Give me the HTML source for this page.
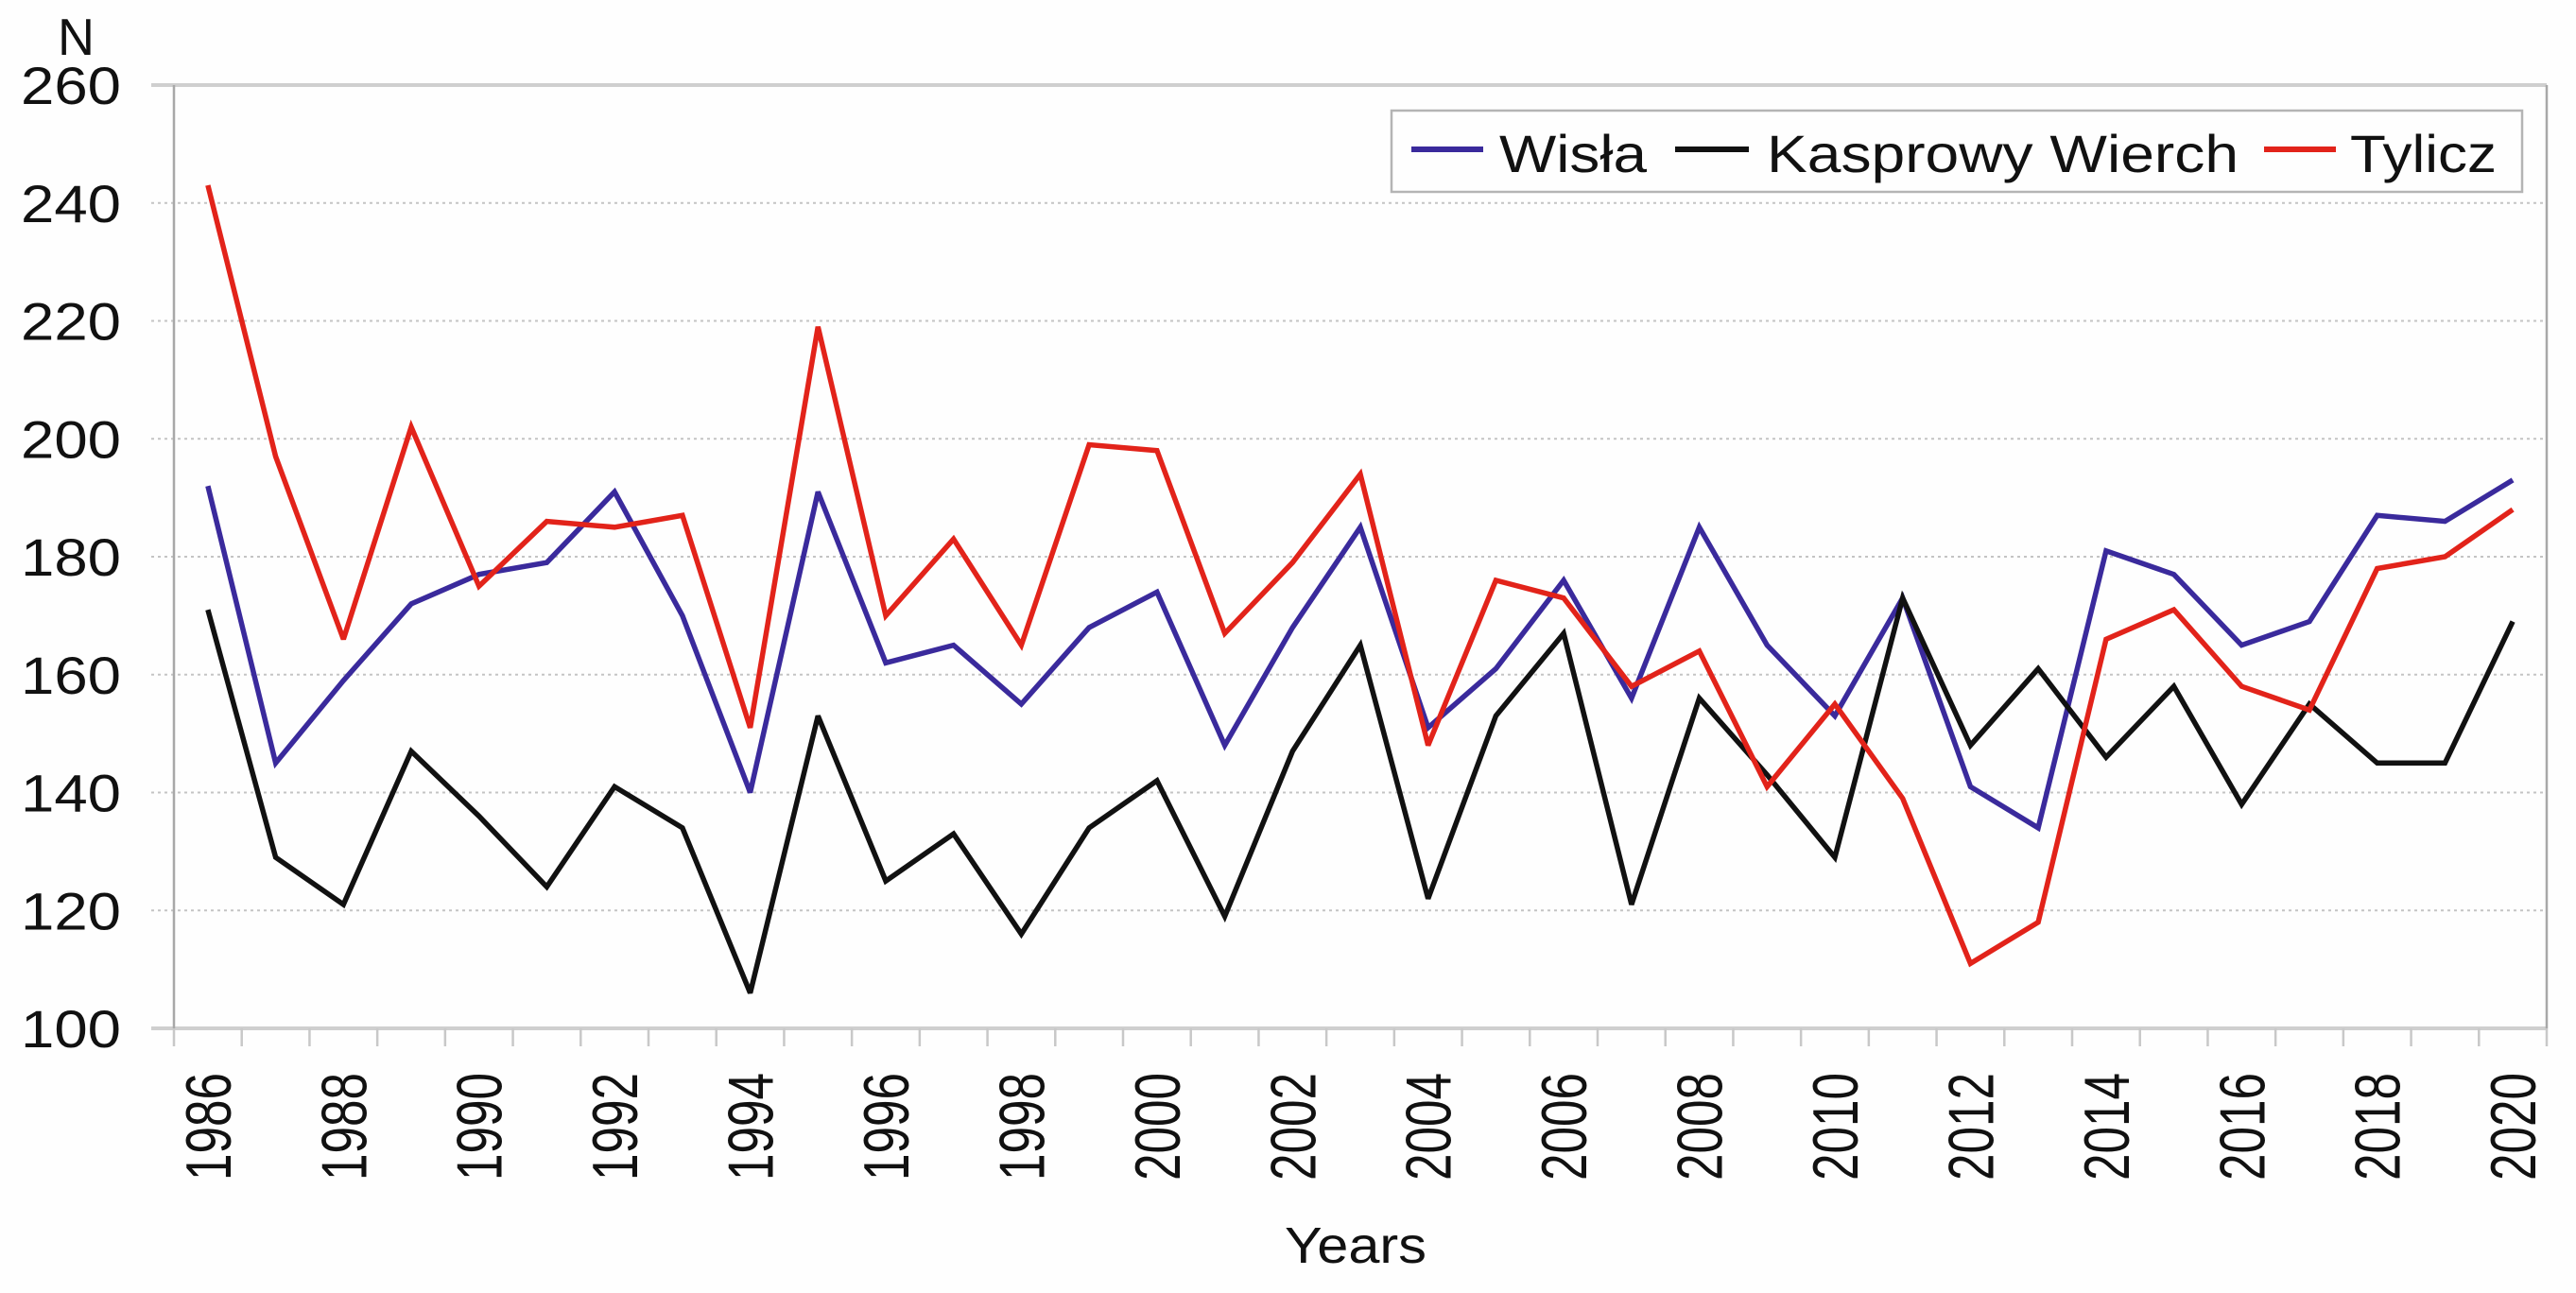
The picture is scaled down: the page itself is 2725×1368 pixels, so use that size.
<!DOCTYPE html>
<html lang="en">
<head>
<meta charset="utf-8">
<title>Wisła, Kasprowy Wierch, Tylicz 1986–2020</title>
<style>
html,body{margin:0;padding:0;background:#fefefe;width:2725px;height:1368px;overflow:hidden}
svg{display:block}
text{font-family:"Liberation Sans",sans-serif;fill:#111}
</style>
</head>
<body>
<svg id="chart" xmlns="http://www.w3.org/2000/svg" width="2725" height="1368" viewBox="0 0 2725 1368">
<rect x="0" y="0" width="2725" height="1368" fill="#fefefe"/>
<g id="grid"></g>
<g id="axes"></g>
<g id="series"></g>
<g id="labels"></g>
<text x="61" y="58" font-size="55" textLength="39" lengthAdjust="spacingAndGlyphs">N</text>
<text x="1359" y="1336" font-size="54" textLength="150" lengthAdjust="spacingAndGlyphs">Years</text>
<g>
<rect x="1472" y="117" width="1196" height="86" fill="#fefefe" stroke="#b4b4b4" stroke-width="2.5"/>
<line x1="1493" x2="1569" y1="158" y2="158" stroke="#3a2a9c" stroke-width="6"/>
<text x="1586" y="182" font-size="56" textLength="156" lengthAdjust="spacingAndGlyphs">Wisła</text>
<line x1="1772" x2="1850" y1="158" y2="158" stroke="#111111" stroke-width="6"/>
<text x="1869" y="182" font-size="56" textLength="499" lengthAdjust="spacingAndGlyphs">Kasprowy Wierch</text>
<line x1="2395" x2="2471" y1="158" y2="158" stroke="#e2231a" stroke-width="6"/>
<text x="2486" y="182" font-size="56" textLength="155" lengthAdjust="spacingAndGlyphs">Tylicz</text>
</g>
</svg>
<script>
const years = [1986,1987,1988,1989,1990,1991,1992,1993,1994,1995,1996,1997,1998,1999,2000,2001,2002,2003,2004,2005,2006,2007,2008,2009,2010,2011,2012,2013,2014,2015,2016,2017,2018,2019,2020];
const wisla = [192,145,159,172,177,179,191,170,140,191,162,165,155,168,174,148,168,185,151,161,176,156,185,165,153,173,141,134,181,177,165,169,187,186,193];
const kasprowyWierch = [171,129,121,147,136,124,141,134,106,153,125,133,116,134,142,119,147,165,122,153,167,121,156,143,129,173,148,161,146,158,138,155,145,145,169];
const tylicz = [243,197,166,202,175,186,185,187,151,219,170,183,165,199,198,167,179,194,148,176,173,158,164,141,155,139,111,118,166,171,158,154,178,180,188];
const yTicks = [100,120,140,160,180,200,220,240,260];
const xTickLabels = [1986,1988,1990,1992,1994,1996,1998,2000,2002,2004,2006,2008,2010,2012,2014,2016,2018,2020];

const NS = 'http://www.w3.org/2000/svg';
const plotLeft = 184, plotRight = 2694, plotTop = 90, plotBottom = 1088;
const yMin = 100, yMax = 260;
function xBand(i){ return plotLeft + (plotRight - plotLeft) * i / years.length; }
function xScale(year){ return xBand(years.indexOf(year) + 0.5); }
function yScale(v){ return plotBottom - (v - yMin) / (yMax - yMin) * (plotBottom - plotTop); }
function make(tag, parent, props){
  const el = document.createElementNS(NS, tag);
  for (const k in props) el.setAttribute(k, props[k]);
  parent.appendChild(el);
  return el;
}
const grid = document.getElementById('grid');
const axes = document.getElementById('axes');
const seriesGroup = document.getElementById('series');
const labels = document.getElementById('labels');

yTicks.forEach(function(t){
  const y = yScale(t);
  const isEdge = t === yMin || t === yMax;
  const line = make('line', isEdge ? axes : grid, {
    x1: 160, x2: plotRight, y1: y, y2: y,
    stroke: isEdge ? '#cfcfcf' : '#c4c4c4',
    'stroke-width': isEdge ? 4 : 2,
    'stroke-dasharray': isEdge ? 'none' : '3 4'
  });
  
  
  const label = make('text', labels, {
    x: 22, y: y + 20, 'font-size': 56, textLength: 106, lengthAdjust: 'spacingAndGlyphs'
  });
  label.textContent = t;
  
  
});

const leftAxis = make('line', axes, {x1: plotLeft, x2: plotLeft, y1: plotTop, y2: plotBottom, stroke: '#a8a8a8', 'stroke-width': 2.5});


const rightAxis = make('line', axes, {x1: plotRight, x2: plotRight, y1: plotTop, y2: plotBottom, stroke: '#a8a8a8', 'stroke-width': 2.5});



for (let i = 0; i <= years.length; i++) {
  const tick = make('line', axes, {x1: xBand(i), x2: xBand(i), y1: plotBottom, y2: 1107, stroke: '#c8c8c8', 'stroke-width': 2.5});
  
  
}

xTickLabels.forEach(function(year){
  const cx = xScale(year);
  const baseX = cx + 24;
  const label = make('text', labels, {
    x: baseX, y: 1249, 'font-size': 68, textLength: 114, lengthAdjust: 'spacingAndGlyphs',
    transform: 'rotate(-90 ' + baseX + ' 1249)'
  });
  label.textContent = year;
  
  
});

function drawSeries(values, color, name){
  const pts = values.map(function(v, i){ return xScale(years[i]).toFixed(1) + ',' + yScale(v).toFixed(1); }).join(' ');
  const line = make('polyline', seriesGroup, {points: pts, fill: 'none', stroke: color, 'stroke-width': 5.5, 'stroke-linejoin': 'miter', 'stroke-miterlimit': 3});
  
  
}
drawSeries(wisla, '#3a2a9c', 'series-wisla');
drawSeries(kasprowyWierch, '#111111', 'series-kasprowy-wierch');
drawSeries(tylicz, '#e2231a', 'series-tylicz');
</script>
</body>
</html>
